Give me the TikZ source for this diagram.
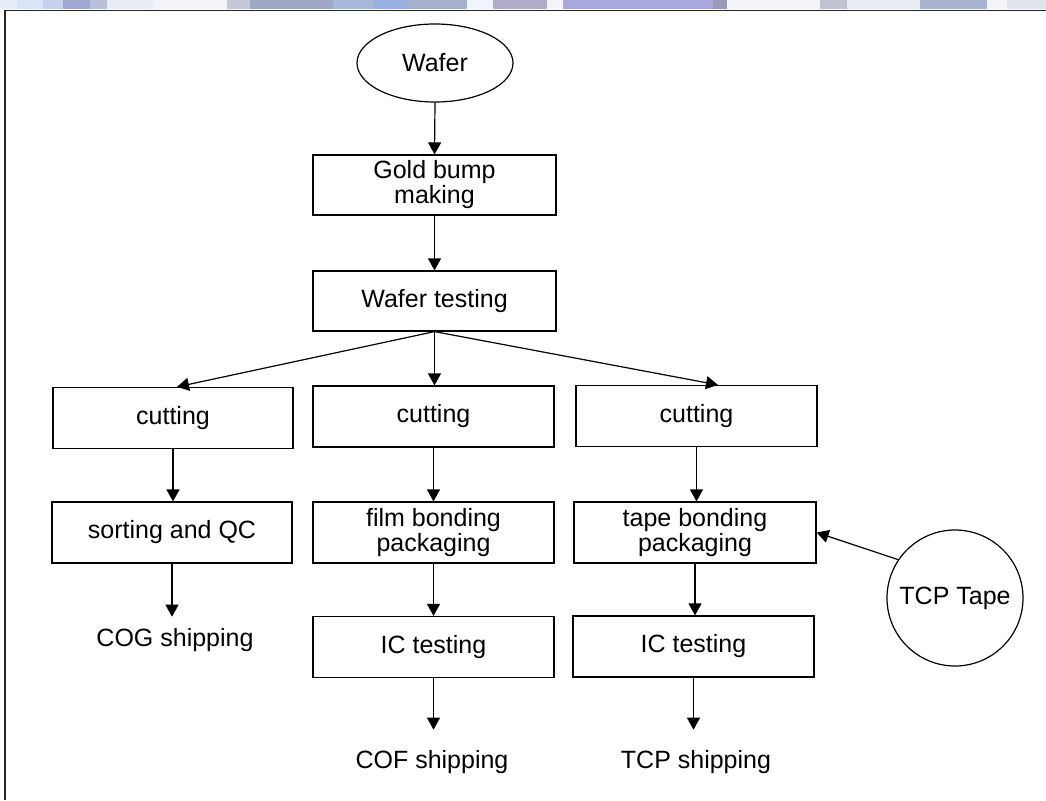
\documentclass[tikz,border=0pt]{standalone}
\usepackage{fontspec}
\setmainfont{Liberation Sans}
\usetikzlibrary{arrows.meta,shapes.geometric}
% colours of the soft banner along the top edge
\definecolor{bA}{HTML}{E8EEF8}
\definecolor{bB}{HTML}{D8E4F8}
\definecolor{bC}{HTML}{C8D0F0}
\definecolor{bD}{HTML}{A0A8D0}
\definecolor{bE}{HTML}{B8C0D8}
\definecolor{bF}{HTML}{E8ECF4}
\definecolor{bG}{HTML}{F4F4F8}
\definecolor{bH}{HTML}{C4C8D8}
\definecolor{bI}{HTML}{A0A8C8}
\definecolor{bJ}{HTML}{A8B8D8}
\definecolor{bK}{HTML}{98B0E0}
\definecolor{bL}{HTML}{A4B0CC}
\definecolor{bM}{HTML}{F0F4FC}
\definecolor{bN}{HTML}{B0ACC8}
\definecolor{bO}{HTML}{A8A8DC}
\definecolor{bP}{HTML}{9898B8}
\definecolor{bQ}{HTML}{C0C4D0}
\definecolor{bR}{HTML}{A8B4D0}
\definecolor{bS}{HTML}{E0E4EC}
\begin{document}
\begin{tikzpicture}[x=1pt,y=-1pt,
  txt/.style={font=\fontsize{25}{25}\selectfont},
  proc/.style={txt, draw, line width=1.2pt, inner sep=0pt,
    minimum width=241pt, minimum height=61pt, align=center},
  term/.style={txt, inner sep=0pt, anchor=base},
  flow/.style={line width=1.2pt, -{Triangle[length=12pt,width=13pt]}}]
\useasboundingbox (0,0) rectangle (1046,800);

% banner strip
\foreach \a/\b/\c in {0/17/bA,17/43/bB,43/63/bC,63/90/bD,90/107/bE,107/153/bF,
  153/227/bG,227/250/bH,250/273/bI,273/333/bI,333/373/bJ,373/407/bK,407/467/bL,
  467/493/bM,493/547/bN,547/563/bG,563/713/bO,713/727/bP,727/820/bG,820/847/bQ,
  847/920/bF,920/987/bR,987/1007/bG,1007/1046/bS}
  \fill[\c] (\a,0) rectangle (\b,9.5);

% frame
\draw[line width=1.2pt, black!85] (5,800) -- (5,10.5) -- (1046,10.5);

% process steps
\node[txt, ellipse, draw, line width=1.2pt, minimum width=156pt,
  minimum height=78pt, inner sep=0pt] (wafer) at (435,63) {Wafer};
\node[proc, minimum width=243pt, minimum height=60pt] (gold) at (434.5,185) {Gold bump\\making};
\node[proc, minimum width=243pt, minimum height=60pt] (wtest) at (434.5,301) {Wafer testing};

\node[proc, minimum width=240pt] (cutA) at (173,418) {cutting};
\node[proc] (cutB) at (433.5,416.5) {cutting};
\node[proc] (cutC) at (696.5,416) {cutting};

\node[proc, minimum width=240pt] (sort) at (172,532.5) {sorting and QC};
\node[proc] (film) at (433.5,532.5) {film bonding\\packaging};
\node[proc, minimum width=242pt] (tape) at (695,532.5) {tape bonding\\packaging};

\node[proc] (icB) at (433.5,647) {IC testing};
\node[proc] (icC) at (693.5,646.5) {IC testing};

\node[term] (cog) at (175,646) {COG shipping};
\node[term] (cof) at (432,768) {COF shipping};
\node[term] (tcps) at (696,768) {TCP shipping};

\node[txt, circle, draw, line width=1.2pt, minimum size=136pt,
  inner sep=0pt] (tcp) at (955,598) {TCP Tape};

% connectors
\draw[flow] (wafer.south) -- (gold.north);
\draw[flow] (gold.south) -- (wtest.north);
\draw[flow] (wtest.south) -- ([xshift=4pt]cutA.north);
\draw[flow] (wtest.south) -- (wtest.south |- cutB.north);
\draw[flow] (wtest.south) -- ([xshift=21.5pt]cutC.north);

\draw[flow] (cutA.south) -- (cutA.south |- sort.north);
\draw[flow, shorten >=11pt] (sort.south) -- (sort.south |- cog.north);

\draw[flow] (cutB.south) -- (cutB.south |- film.north);
\draw[flow] (film.south) -- (film.south |- icB.north);
\draw[flow, shorten >=20pt] (icB.south) -- (icB.south |- cof.north);

\draw[flow] (cutC.south) -- (cutC.south |- tape.north);
\draw[flow] (tape.south) -- (tape.south |- icC.north);
\draw[flow, shorten >=20pt] (icC.south) -- (icC.south |- tcps.north);

\draw[flow] (tcp.146) -- (tape.east);
\end{tikzpicture}
\end{document}
